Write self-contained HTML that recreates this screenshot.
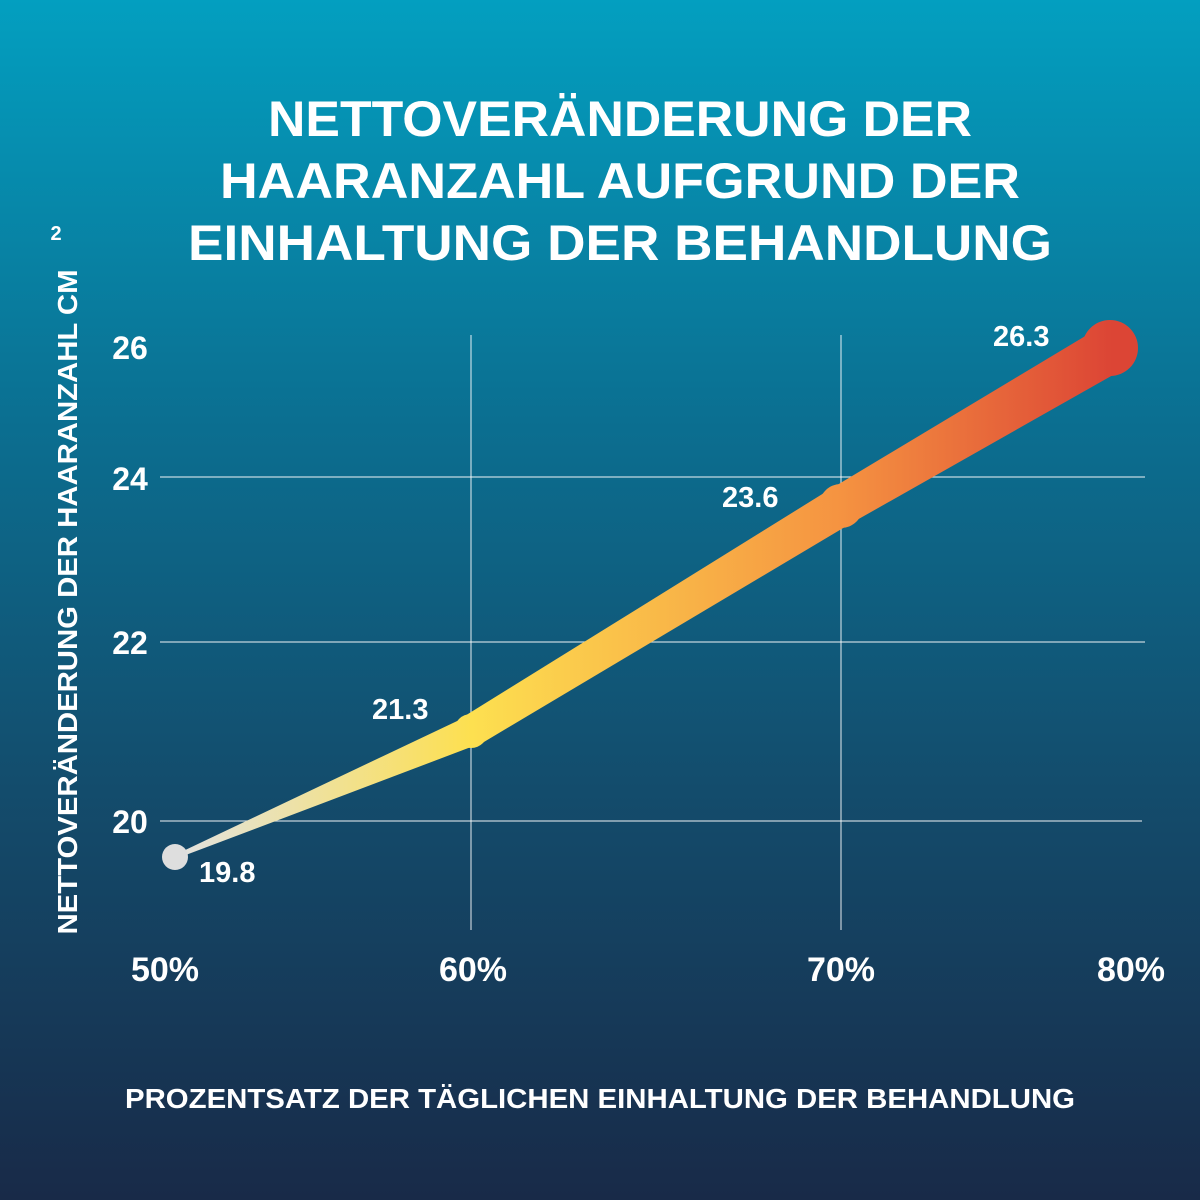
<!DOCTYPE html>
<html><head><meta charset="utf-8"><style>
html,body{margin:0;padding:0}
body{width:1200px;height:1200px;overflow:hidden;background:linear-gradient(180deg,#039fc0 0%,#0b6f91 35%,#134d6d 65%,#182a48 100%);font-family:"Liberation Sans",sans-serif}
</style></head><body>
<svg width="1200" height="1200" xmlns="http://www.w3.org/2000/svg" style="position:absolute;left:0;top:0">
<defs>
<linearGradient id="g" gradientUnits="userSpaceOnUse" x1="175" y1="0" x2="1112" y2="0">
<stop offset="0" stop-color="#e2e2e2"/>
<stop offset="0.316" stop-color="#fde050"/>
<stop offset="0.71" stop-color="#f59341"/>
<stop offset="1" stop-color="#dc4535"/>
</linearGradient>
</defs>
<g font-family="Liberation Sans, sans-serif" font-weight="bold" fill="#fff" text-anchor="middle">
<text x="620" y="136" font-size="50" textLength="704" lengthAdjust="spacingAndGlyphs">NETTOVERÄNDERUNG DER</text>
<text x="620" y="198" font-size="50" textLength="800" lengthAdjust="spacingAndGlyphs">HAARANZAHL AUFGRUND DER</text>
<text x="620" y="260" font-size="50" textLength="864" lengthAdjust="spacingAndGlyphs">EINHALTUNG DER  BEHANDLUNG</text>
</g>
<g stroke="#fff" stroke-opacity="0.75" stroke-width="1.2">
<line x1="471" y1="335" x2="471" y2="930"/>
<line x1="841" y1="335" x2="841" y2="930"/>
<line x1="160" y1="477" x2="1145" y2="477"/>
<line x1="160" y1="642" x2="1145" y2="642"/>
<line x1="160" y1="821" x2="1142" y2="821"/>
</g>
<g font-family="Liberation Sans, sans-serif" font-weight="bold" fill="#fff" font-size="32" text-anchor="middle">
<text x="130" y="359">26</text>
<text x="130" y="490">24</text>
<text x="130" y="654">22</text>
<text x="130" y="833">20</text>
<text x="165" y="981" font-size="34">50%</text>
<text x="473" y="981" font-size="34">60%</text>
<text x="841" y="981" font-size="34">70%</text>
<text x="1131" y="981" font-size="34">80%</text>
<text x="600" y="1108" font-size="28" textLength="950" lengthAdjust="spacingAndGlyphs">PROZENTSATZ DER TÄGLICHEN EINHALTUNG DER BEHANDLUNG</text>
<text transform="translate(77,602) rotate(-90)" font-size="28" textLength="665" lengthAdjust="spacingAndGlyphs">NETTOVERÄNDERUNG DER HAARANZAHL CM</text>
<text x="56" y="240" font-size="20">2</text>
</g>
<g fill="url(#g)">
<polygon points="175.8,858.8 476.9,744.8 465.1,717.2 174.2,855.2"/>
<polygon points="479.3,744.7 851.4,523.1 830.6,488.9 462.7,717.3"/>
<polygon points="851.1,523.3 1124.1,368.7 1099.9,327.3 830.9,488.7"/>
<circle cx="471" cy="731" r="17"/>
<circle cx="841" cy="506" r="22"/>
<circle cx="1110" cy="348" r="28"/>
</g>
<circle cx="175" cy="857" r="13" fill="#dedede"/>
<g font-family="Liberation Sans, sans-serif" font-weight="bold" fill="#fff" font-size="29">
<text x="199" y="882">19.8</text>
<text x="372" y="719">21.3</text>
<text x="722" y="507">23.6</text>
<text x="993" y="346">26.3</text>
</g>
</svg>
</body></html>
